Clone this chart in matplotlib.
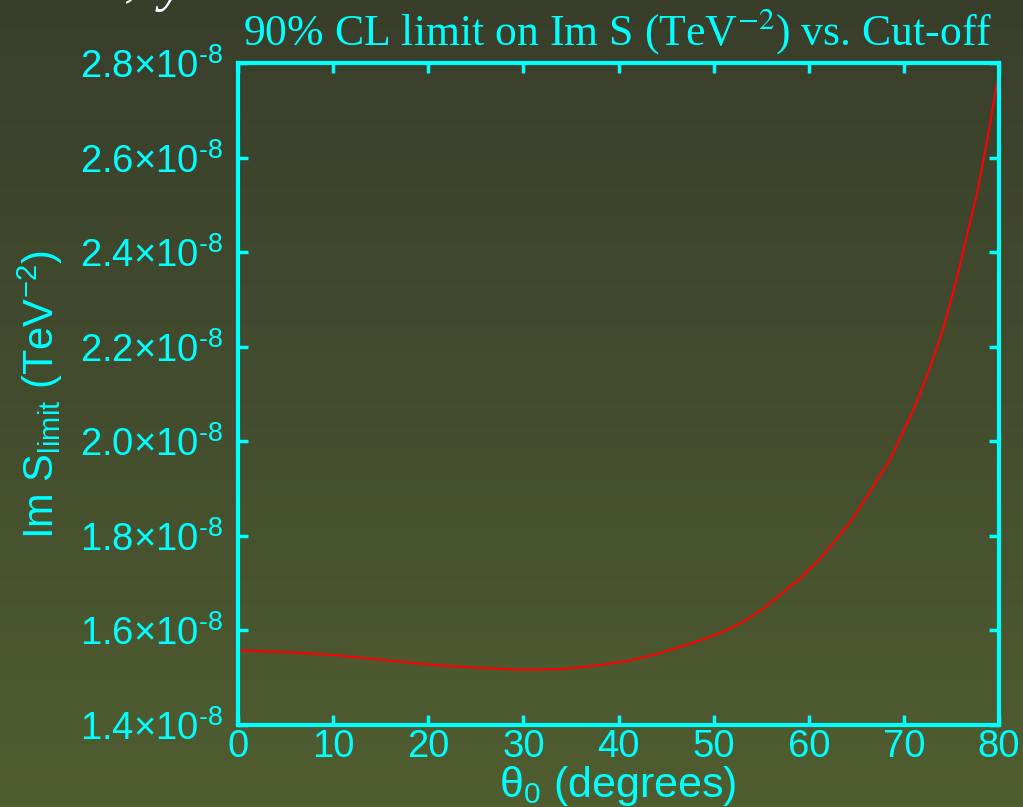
import numpy as np
import matplotlib
matplotlib.use("Agg")
import matplotlib.pyplot as plt
from matplotlib.colors import LinearSegmentedColormap

# ---- data ----
theta0 = [0, 5, 10, 15, 20, 25, 30, 33.9, 37, 40.9, 44, 47.9, 50.5, 53.1,
          55, 57, 59.1, 61.2, 64.3, 66.1, 68.5, 71.0, 72.8, 74.2, 75.6, 76.6,
          77.7, 78.7, 79.6, 80]
im_s_limit = [1.558, 1.554, 1.548, 1.538, 1.528, 1.521, 1.517, 1.518, 1.524,
              1.535, 1.550, 1.574, 1.593, 1.618, 1.643, 1.675, 1.710, 1.752,
              1.827, 1.883, 1.960, 2.066, 2.158, 2.242, 2.348, 2.433, 2.525,
              2.630, 2.736, 2.780]
scale = 1e-8
x_ticks = [0, 10, 20, 30, 40, 50, 60, 70, 80]
y_ticks = [1.4, 1.6, 1.8, 2.0, 2.2, 2.4, 2.6, 2.8]

title = r"90% CL limit on Im S (TeV$^{-2}$) vs. Cut-off"
xlabel = r"θ$_{\mathregular{0}}$ (degrees)"
ylabel = r"Im S$_{\mathregular{limit}}$ (TeV$^{-2}$)"

CYAN = "#00ffff"

plt.rcParams["mathtext.fontset"] = "custom"
plt.rcParams["mathtext.rm"] = "Liberation Sans"
plt.rcParams["mathtext.it"] = "Liberation Sans:italic"
plt.rcParams["mathtext.sf"] = "Liberation Sans"

W, H = 1023, 807
fig = plt.figure(figsize=(W / 100, H / 100), dpi=100)

# background gradient
bg = fig.add_axes([0, 0, 1, 1], zorder=-10)
cmap = LinearSegmentedColormap.from_list("bg", ["#505d30", "#434d2e", "#393e2b"])
grad = np.linspace(0, 1, 256).reshape(-1, 1)
bg.imshow(grad, aspect="auto", cmap=cmap, origin="lower", extent=[0, 1, 0, 1])
bg.set_axis_off()

ax = fig.add_axes([238 / W, 1 - 725 / H, (999 - 238) / W, (725 - 63) / H])
ax.patch.set_alpha(0)

ax.plot(np.array(theta0), np.array(im_s_limit) * scale, color="red", lw=1.5)

ax.set_xlim(0, 80)
ax.set_ylim(1.4 * scale, 2.8 * scale)
ax.set_xticks(x_ticks)
ax.set_xticklabels([str(t) for t in x_ticks])
ax.set_yticks([v * scale for v in y_ticks])
ax.set_yticklabels([("%.1f" % v) + r"×10$^{\text{-8}}$" for v in y_ticks])

for s in ax.spines.values():
    s.set_color(CYAN)
    s.set_linewidth(3)
ax.tick_params(which="both", direction="in", length=7, width=2.5, color=CYAN,
               labelcolor=CYAN, labelsize=27.5, top=True, right=True)
ax.tick_params(axis="x", pad=3)
ax.tick_params(axis="y", pad=11)
for lab in ax.get_xticklabels() + ax.get_yticklabels():
    lab.set_family("Liberation Sans")

fig.text(618 / W, 1 - 797 / H, xlabel, color=CYAN, fontsize=31,
         family="Liberation Sans", ha="center", va="baseline")
fig.text(40 / W, 1 - 395 / H, ylabel, color=CYAN, fontsize=30,
         family="Liberation Sans", ha="center", va="center", rotation=90)

fig.text(618 / W, 1 - 45 / H, title, color=CYAN, fontsize=31.5,
         family="Liberation Serif", math_fontfamily="stix",
         ha="center", va="baseline")

# partial text cut off at the top-left
fig.text(124 / W, 1 + 6 / H, ",", color="white", fontsize=40,
         family="Liberation Serif", va="baseline", ha="left")
fig.text(160 / W, 1.0, "y", color="white", fontsize=40,
         family="Liberation Serif", style="italic", va="baseline", ha="left")

fig.savefig("out.png", dpi=100)
